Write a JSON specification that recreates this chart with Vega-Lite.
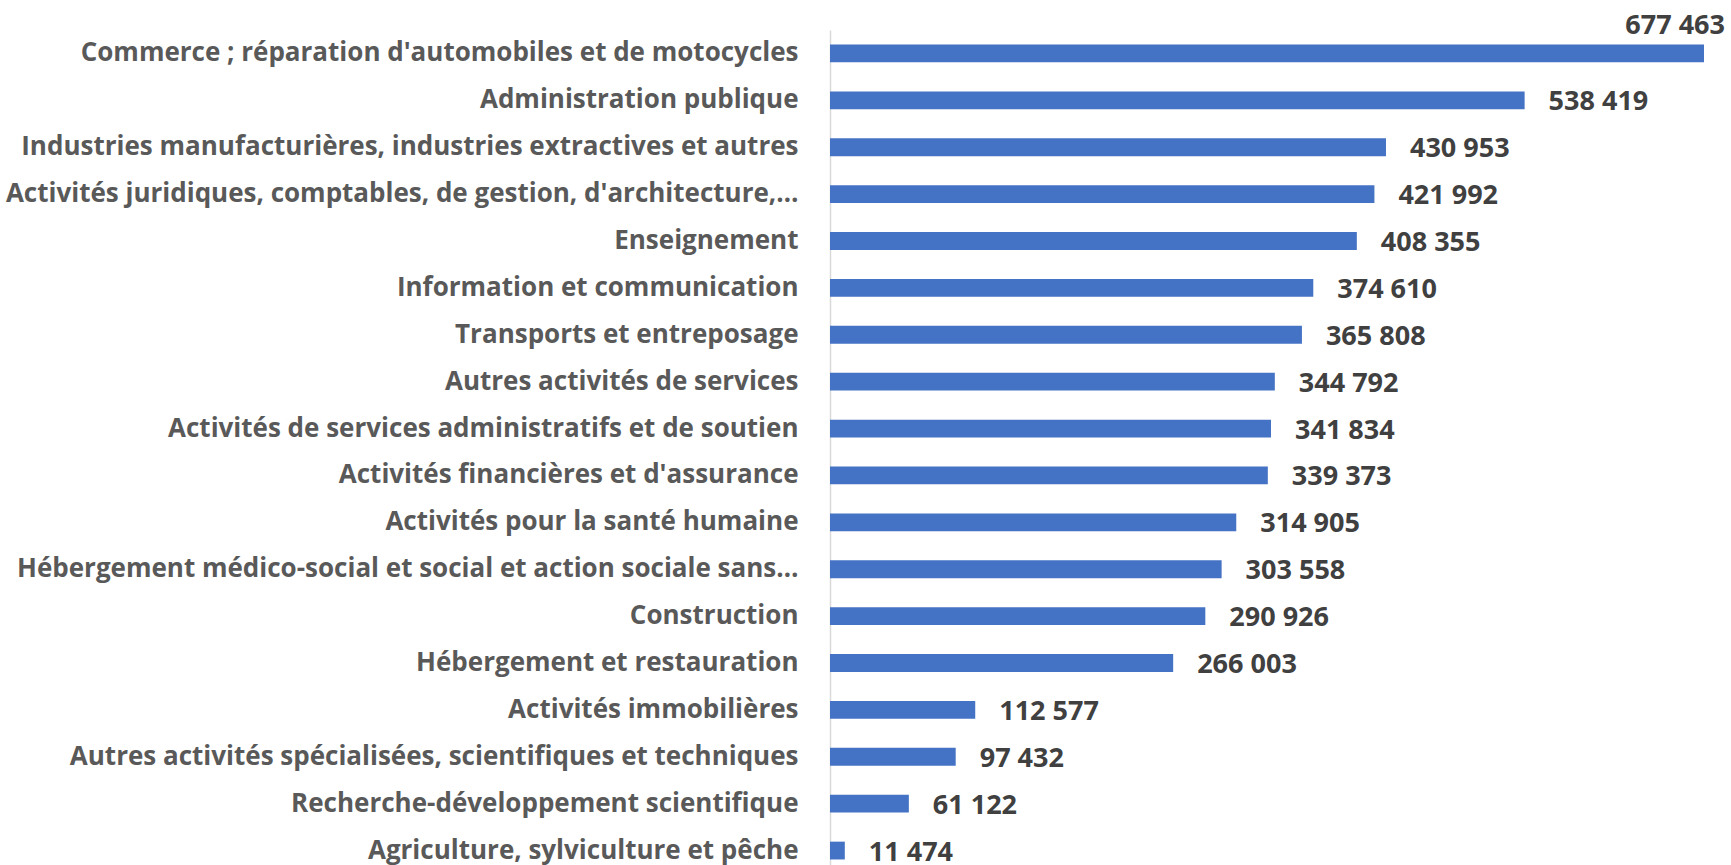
{
  "$schema": "https://vega.github.io/schema/vega-lite/v6.json",
  "width": 874,
  "height": 844,
  "autosize": {"type": "none"},
  "padding": {"left": 830, "top": 30, "right": 27, "bottom": 0},
  "background": "white",
  "config": {
    "view": {"stroke": null},
    "locale": {"number": {"decimal": ",", "thousands": " ", "grouping": [3], "currency": ["", " €"]}}
  },
  "data": {
    "values": [
      {"secteur": "Commerce ; réparation d'automobiles et de motocycles", "valeur": 677463},
      {"secteur": "Administration publique", "valeur": 538419},
      {"secteur": "Industries manufacturières, industries extractives et autres", "valeur": 430953},
      {"secteur": "Activités juridiques, comptables, de gestion, d'architecture,…", "valeur": 421992},
      {"secteur": "Enseignement", "valeur": 408355},
      {"secteur": "Information et communication", "valeur": 374610},
      {"secteur": "Transports et entreposage", "valeur": 365808},
      {"secteur": "Autres activités de services", "valeur": 344792},
      {"secteur": "Activités de services administratifs et de soutien", "valeur": 341834},
      {"secteur": "Activités financières et d'assurance", "valeur": 339373},
      {"secteur": "Activités pour la santé humaine", "valeur": 314905},
      {"secteur": "Hébergement médico-social et social et action sociale sans…", "valeur": 303558},
      {"secteur": "Construction", "valeur": 290926},
      {"secteur": "Hébergement et restauration", "valeur": 266003},
      {"secteur": "Activités immobilières", "valeur": 112577},
      {"secteur": "Autres activités spécialisées, scientifiques et techniques", "valeur": 97432},
      {"secteur": "Recherche-développement scientifique", "valeur": 61122},
      {"secteur": "Agriculture, sylviculture et pêche", "valeur": 11474}
    ]
  },
  "encoding": {
    "y": {
      "field": "secteur", "type": "nominal", "sort": null,
      "scale": {"paddingInner": 0.62, "paddingOuter": 0.31},
      "axis": {
        "title": null, "ticks": false, "domainColor": "#d9d9d9", "domainWidth": 1.5,
        "labelFont": "Open Sans", "labelFontWeight": "bold", "labelFontSize": 26,
        "labelColor": "#595959", "labelPadding": 32, "labelLimit": 1000
      }
    },
    "x": {
      "field": "valeur", "type": "quantitative",
      "scale": {"domain": [0, 677463], "nice": false, "zero": true},
      "axis": null
    }
  },
  "layer": [
    {"mark": {"type": "bar", "color": "#4472c4", "clip": false}},
    {
      "transform": [{"filter": "datum.valeur < 600000"}],
      "mark": {"type": "text", "align": "left", "baseline": "middle", "dx": 24, "dy": 2,
               "font": "Open Sans", "fontWeight": "bold", "fontSize": 27, "color": "#404040"},
      "encoding": {"text": {"field": "valeur", "type": "quantitative", "format": ",d"}}
    },
    {
      "transform": [{"filter": "datum.valeur >= 600000"}],
      "mark": {"type": "text", "align": "right", "baseline": "alphabetic", "dx": 21, "dy": -19,
               "font": "Open Sans", "fontWeight": "bold", "fontSize": 27, "color": "#404040"},
      "encoding": {"text": {"field": "valeur", "type": "quantitative", "format": ",d"}}
    }
  ]
}
